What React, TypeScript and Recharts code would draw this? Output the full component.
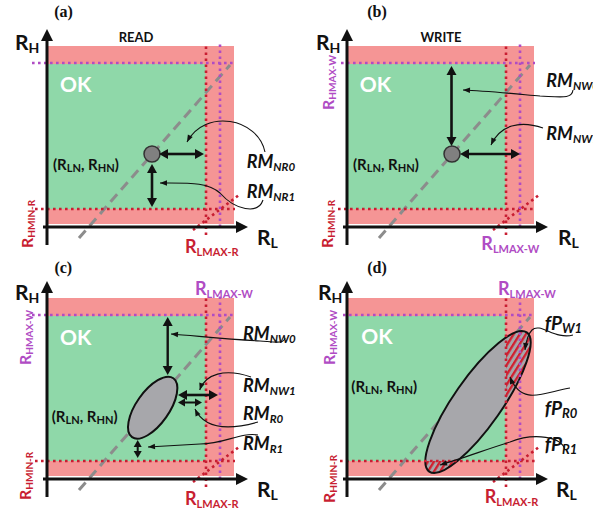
import React from "react";
import * as Recharts from "recharts";

const { ComposedChart, XAxis, YAxis, ReferenceArea, ReferenceLine, ReferenceDot, Customized } = Recharts as any;
const RC: any = Recharts;

type Pt = [number, number];

// ---- data: abstract resistance units, R_L on x, R_H on y ----
const X_DOMAIN: Pt = [0, 200];
const Y_DOMAIN: Pt = [0, 200];

const failZone = [0, 187, 3, 181]; // x1, x2, y1, y2
const okZone = [0, 158.5, 18, 163];

const R_HMAX_W = 164;
const R_HMIN_R = 18;
const R_LMAX_R = 159;
const R_LMAX_W = 173;

const hmaxWStart = [-15, -6, -15, -4];
const hminRStart = [-12, -9, -12, -7];
const limitEnd = 188;
const lmaxRSpan: Pt = [-8, 184];
const lmaxWSpan: Pt = [0, 184];
const diagRef: Pt[] = [[146, -3], [192, 32]];
const diagEqual: Pt[] = [[32, -11], [183, 162]];
const xAxisSpan: Pt = [-4, 201];
const yAxisSpan: Pt = [-18, 198];

const nominal: Pt = [105, 73];

// double headed margin arrows
const marginsA: Pt[][] = [[[112, 73], [157, 73]], [[105, 63], [105, 20]]];
const marginsB: Pt[][] = [[[104.5, 161], [104.5, 81]], [[113, 73], [173, 73]]];
const marginsC: Pt[][] = [
  [[120.7, 162], [120.7, 104]],
  [[131, 84], [171, 84]],
  [[131, 76.5], [155, 76.5]],
  [[90.7, 39], [90.7, 21]],
];

// distributions (centre, radii, tilt in degrees)
const spreadC = { c: [105.7, 71.3] as Pt, r: [36, 16.5] as Pt, angle: 55 };
const spreadD = { c: [131, 77] as Pt, r: [85, 24] as Pt, angle: 55 };

// annotation pointers (cubic bezier chains, arrow at the last point)
const pointersA: Pt[][] = [
  [[218, 75], [211, 109], [158, 119], [140, 85]],
  [[216, 27], [211, 12], [188, 17], [173, 34], [161, 45], [143, 44], [113, 44]],
];
const pointersB: Pt[][] = [
  [[226, 137], [225, 128], [215, 130], [193, 131], [170, 133], [140, 136], [116, 137]],
  [[196, 99], [173, 107], [153, 102], [144, 82]],
];
const pointersC: Pt[][] = [
  [[238, 141], [237, 135], [228, 137], [213, 138], [180, 140], [150, 143], [124, 145]],
  [[204, 102], [178, 111], [158, 105], [152.7, 89]],
  [[211, 57], [183, 49], [158, 49], [148, 70]],
  [[211, 44], [193, 47], [178, 35], [153, 35], [135, 34], [118, 33], [101, 32]],
];
const pointersD: Pt[][] = [
  [[226, 144], [208, 139], [193, 157], [185, 149], [181, 145], [179, 137], [178, 129]],
  [[223, 91], [198, 87], [175, 72], [163, 102]],
  [[218, 29], [215, 42], [188, 47], [163, 37], [138, 29], [113, 20], [93, 14]],
];

// ---- styles ----
const W = 296;
const H = 262;
const MARGIN = { top: 27, right: 49, bottom: 35, left: 47 };
const PINK = "#F59595";
const GREEN = "#8FD8A9";
const RED = "#C81E32";
const HATCH = "#D21F2E";
const MAGENTA = "#B04CC4";
const GRAY = "#8C8C8C";
const SANS = "Lato, 'Open Sans', sans-serif";
const SERIF = "'Liberation Serif', 'DejaVu Serif', serif";

type Lbl = {
  t: string; x: number; y: number; s: number; sub?: number;
  color?: string; italic?: boolean; rot?: number; anchor?: string; serif?: boolean;
};

const labelsA: Lbl[] = [
  { t: "(a)", x: 16.5, y: 210, s: 16, serif: true, anchor: "middle" },
  { t: "READ", x: 89, y: 185, s: 13, anchor: "middle" },
  { t: "R{H}", x: -32, y: 177, s: 21, sub: 14 },
  { t: "OK", x: 13, y: 135, s: 21, color: "#fff" },
  { t: "(R{LN}, R{HN})", x: 6, y: 57, s: 15, sub: 11 },
  { t: "RM{NR0}", x: 199.7, y: 59, s: 18, sub: 11.5, italic: true },
  { t: "RM{NR1}", x: 199.7, y: 29, s: 18, sub: 11.5, italic: true },
  { t: "R{HMIN-R}", x: -14, y: -21, s: 16, sub: 10, rot: -90, color: RED },
  { t: "R{LMAX-R}", x: 138, y: -26, s: 18, sub: 11, color: RED },
  { t: "R{L}", x: 210, y: -18, s: 21, sub: 14 },
];
const labelsB: Lbl[] = [
  { t: "(b)", x: 30, y: 210, s: 16, serif: true, anchor: "middle" },
  { t: "WRITE", x: 94, y: 185, s: 13, anchor: "middle" },
  { t: "R{H}", x: -31, y: 177, s: 21, sub: 14 },
  { t: "OK", x: 12.7, y: 135, s: 21, color: "#fff" },
  { t: "(R{LN}, R{HN})", x: 6, y: 57, s: 15, sub: 11 },
  { t: "RM{NW0}", x: 199.3, y: 140, s: 18, sub: 11.5, italic: true },
  { t: "RM{NW1}", x: 199.3, y: 87, s: 18, sub: 11.5, italic: true },
  { t: "R{HMAX-W}", x: -13, y: 117, s: 16, sub: 10, rot: -90, color: MAGENTA },
  { t: "R{HMIN-R}", x: -14, y: -21, s: 16, sub: 10, rot: -90, color: RED },
  { t: "R{LMAX-W}", x: 134.3, y: -23, s: 18, sub: 11, color: MAGENTA },
  { t: "R{L}", x: 211, y: -18, s: 21, sub: 14 },
];
const labelsC: Lbl[] = [
  { t: "(c)", x: 16.3, y: 206, s: 16, serif: true, anchor: "middle" },
  { t: "R{H}", x: -32, y: 179, s: 21, sub: 14 },
  { t: "R{LMAX-W}", x: 148, y: 184, s: 18, sub: 11, color: MAGENTA },
  { t: "R{HMAX-W}", x: -16, y: 114, s: 16, sub: 10, rot: -90, color: MAGENTA },
  { t: "R{HMIN-R}", x: -16, y: -21, s: 16, sub: 10, rot: -90, color: RED },
  { t: "OK", x: 13, y: 134, s: 21, color: "#fff" },
  { t: "(R{LN}, R{HN})", x: 4.7, y: 57, s: 15, sub: 11 },
  { t: "RM{NW0}", x: 196, y: 139, s: 18, sub: 11.5, italic: true },
  { t: "RM{NW1}", x: 196, y: 87, s: 18, sub: 11.5, italic: true },
  { t: "RM{R0}", x: 196, y: 59, s: 18, sub: 11.5, italic: true },
  { t: "RM{R1}", x: 196, y: 29, s: 18, sub: 11.5, italic: true },
  { t: "R{LMAX-R}", x: 138, y: -26, s: 18, sub: 11, color: RED },
  { t: "R{L}", x: 210, y: -18, s: 21, sub: 14 },
];
const labelsD: Lbl[] = [
  { t: "(d)", x: 30, y: 206, s: 16, serif: true, anchor: "middle" },
  { t: "R{H}", x: -29, y: 179, s: 21, sub: 14 },
  { t: "R{LMAX-W}", x: 151, y: 184, s: 18, sub: 11, color: MAGENTA },
  { t: "R{HMAX-W}", x: -12, y: 114, s: 16, sub: 10, rot: -90, color: MAGENTA },
  { t: "R{HMIN-R}", x: -12, y: -24, s: 16, sub: 10, rot: -90, color: RED },
  { t: "OK", x: 14.3, y: 134.7, s: 21, color: "#fff" },
  { t: "(R{LN}, R{HN})", x: 4.3, y: 87, s: 15, sub: 11 },
  { t: "fP{W1}", x: 197.7, y: 149, s: 19, sub: 13, italic: true },
  { t: "fP{R0}", x: 197.7, y: 64, s: 19, sub: 13, italic: true },
  { t: "fP{R1}", x: 197.7, y: 28, s: 19, sub: 13, italic: true },
  { t: "R{LMAX-R}", x: 137.7, y: -24, s: 18, sub: 11, color: RED },
  { t: "R{L}", x: 209, y: -18, s: 21, sub: 14 },
];

type Spec = {
  id: string; idx: number; left: number; top: number;
  dot?: boolean; spread?: typeof spreadC; hatch?: boolean;
  margins: Pt[][]; marginWidths: number[]; pointers: Pt[][]; labels: Lbl[];
};

const PANELS: Spec[] = [
  { id: "a", idx: 0, left: 0, top: 0, dot: true, margins: marginsA, marginWidths: [2.6, 2.6], pointers: pointersA, labels: labelsA },
  { id: "b", idx: 1, left: 300, top: 0, dot: true, margins: marginsB, marginWidths: [2.6, 2.6], pointers: pointersB, labels: labelsB },
  { id: "c", idx: 2, left: 0, top: 252, spread: spreadC, margins: marginsC, marginWidths: [2.4, 2.6, 2, 2], pointers: pointersC, labels: labelsC },
  { id: "d", idx: 3, left: 300, top: 252, spread: spreadD, hatch: true, margins: [], marginWidths: [], pointers: pointersD, labels: labelsD },
];

const usePlotAreaSafe: () => any = RC.usePlotArea ?? (() => undefined);

function useFrame() {
  const pa = usePlotAreaSafe();
  const left = pa?.x ?? MARGIN.left;
  const top = pa?.y ?? MARGIN.top;
  const w = pa?.width ?? W - MARGIN.left - MARGIN.right;
  const h = pa?.height ?? H - MARGIN.top - MARGIN.bottom;
  const sx = (v: number) => left + ((v - X_DOMAIN[0]) / (X_DOMAIN[1] - X_DOMAIN[0])) * w;
  const sy = (v: number) => top + h - ((v - Y_DOMAIN[0]) / (Y_DOMAIN[1] - Y_DOMAIN[0])) * h;
  return { sx, sy };
}

function headPts(x1: number, y1: number, x2: number, y2: number, len: number, wid: number) {
  const d = Math.hypot(x2 - x1, y2 - y1) || 1;
  const ux = (x2 - x1) / d, uy = (y2 - y1) / d;
  const bx = x2 - ux * len, by = y2 - uy * len;
  return {
    base: [bx, by],
    poly: `${x2},${y2} ${bx - (uy * wid) / 2},${by + (ux * wid) / 2} ${bx + (uy * wid) / 2},${by - (ux * wid) / 2}`,
  };
}

function Rich({ l, sx, sy }: { l: Lbl; sx: (v: number) => number; sy: (v: number) => number }) {
  const x = sx(l.x), y = sy(l.y);
  const parts = l.t.split(/(\{[^}]*\})/).filter(Boolean);
  const sub = l.sub ?? l.s * 0.65;
  const off = l.s * 0.14;
  let down = false;
  return (
    <text
      x={x} y={y} fontSize={l.s} fill={l.color ?? "#111"}
      fontFamily={l.serif ? SERIF : SANS} fontWeight={700}
      fontStyle={l.italic ? "italic" : "normal"}
      textAnchor={l.anchor ?? "start"}
      transform={l.rot ? `rotate(${l.rot} ${x} ${y})` : undefined}
    >
      {parts.map((p, i) => {
        if (p.startsWith("{")) {
          const dy = down ? 0 : off;
          down = true;
          return <tspan key={i} dy={dy} fontSize={sub}>{p.slice(1, -1)}</tspan>;
        }
        const dy = down ? -off : 0;
        down = false;
        return <tspan key={i} dy={dy}>{p}</tspan>;
      })}
    </text>
  );
}

function Spread({ spec }: { spec: Spec }) {
  const { sx, sy } = useFrame();
  const sp = spec.spread;
  if (!sp) return null;
  const cx = sx(sp.c[0]), cy = sy(sp.c[1]);
  const rx = sx(sp.c[0] + sp.r[0]) - cx, ry = sy(sp.c[1]) - sy(sp.c[1] + sp.r[1]);
  const tf = `rotate(${-sp.angle} ${cx} ${cy})`;
  const ell = `ell-${spec.id}`;
  const hat = `hat-${spec.id}`;
  return (
    <g>
      <defs>
        <clipPath id={ell}>
          <ellipse cx={cx} cy={cy} rx={rx} ry={ry} transform={tf} />
        </clipPath>
        <pattern id={hat} patternUnits="userSpaceOnUse" width={5.2} height={10} patternTransform="rotate(32)">
          <rect x={0} y={0} width={2.3} height={10} fill={HATCH} />
        </pattern>
      </defs>
      <ellipse cx={cx} cy={cy} rx={rx} ry={ry} transform={tf} fill="#A7A7AB" />
      {spec.hatch && (
        <g clipPath={`url(#${ell})`}>
          <rect x={sx(R_LMAX_R)} y={sy(200)} width={sx(200) - sx(R_LMAX_R)} height={sy(0) - sy(200)} fill={`url(#${hat})`} />
          <rect x={sx(0)} y={sy(R_HMIN_R)} width={sx(200) - sx(0)} height={sy(0) - sy(R_HMIN_R)} fill={`url(#${hat})`} />
        </g>
      )}
      <ellipse cx={cx} cy={cy} rx={rx} ry={ry} transform={tf} fill="none" stroke="#111" strokeWidth={2} />
    </g>
  );
}

function Annotations({ spec }: { spec: Spec }) {
  const { sx, sy } = useFrame();
  const dbl = (seg: Pt[], w: number, k: number) => {
    const [x1, y1] = [sx(seg[0][0]), sy(seg[0][1])];
    const [x2, y2] = [sx(seg[1][0]), sy(seg[1][1])];
    const len = w > 2.3 ? 9 : 7, wid = w > 2.3 ? 10 : 8;
    const h2 = headPts(x1, y1, x2, y2, len, wid);
    const h1 = headPts(x2, y2, x1, y1, len, wid);
    return (
      <g key={`m${k}`}>
        <line x1={h1.base[0]} y1={h1.base[1]} x2={h2.base[0]} y2={h2.base[1]} stroke="#111" strokeWidth={w} />
        <polygon points={h1.poly} fill="#111" />
        <polygon points={h2.poly} fill="#111" />
      </g>
    );
  };
  const ptr = (pts: Pt[], k: number) => {
    const p = pts.map(([a, b]) => [sx(a), sy(b)]);
    let d = `M${p[0][0]},${p[0][1]}`;
    for (let i = 1; i + 2 < p.length; i += 3) {
      d += ` C${p[i][0]},${p[i][1]} ${p[i + 1][0]},${p[i + 1][1]} ${p[i + 2][0]},${p[i + 2][1]}`;
    }
    const n = p.length - 1;
    const hd = headPts(p[n - 1][0], p[n - 1][1], p[n][0], p[n][1], 7, 5.5);
    return (
      <g key={`p${k}`}>
        <path d={d} fill="none" stroke="#111" strokeWidth={1.1} />
        <polygon points={hd.poly} fill="#111" />
      </g>
    );
  };
  const xa = headPts(sx(xAxisSpan[0]), sy(0), sx(xAxisSpan[1]), sy(0), 12, 12);
  const ya = headPts(sx(0), sy(yAxisSpan[0]), sx(0), sy(yAxisSpan[1]), 12, 12);
  return (
    <g>
      <line x1={sx(xAxisSpan[0])} y1={sy(0)} x2={xa.base[0]} y2={xa.base[1]} stroke="#111" strokeWidth={3} />
      <polygon points={xa.poly} fill="#111" />
      <line x1={sx(0)} y1={sy(yAxisSpan[0])} x2={ya.base[0]} y2={ya.base[1]} stroke="#111" strokeWidth={3} />
      <polygon points={ya.poly} fill="#111" />
      {spec.margins.map((m, i) => dbl(m, spec.marginWidths[i], i))}
      {spec.pointers.map((p, i) => ptr(p, i))}
      {spec.labels.map((l, i) => <Rich key={i} l={l} sx={sx} sy={sy} />)}
    </g>
  );
}

// one transparent chart per drawing layer, all sharing the same axes
function Layer({ children }: { children: React.ReactNode }) {
  return (
    <div style={{ position: "absolute", left: 0, top: 0 }}>
      <ComposedChart width={W} height={H} margin={MARGIN} data={[]}>
        <XAxis type="number" dataKey="x" domain={X_DOMAIN} hide allowDataOverflow />
        <YAxis type="number" dataKey="y" domain={Y_DOMAIN} hide allowDataOverflow />
        {children}
      </ComposedChart>
    </div>
  );
}

function Panel({ spec }: { spec: Spec }) {
  const dotted = { strokeWidth: 2.6, strokeDasharray: "2.6 3.4", ifOverflow: "visible" };
  return (
    <div style={{ position: "absolute", left: spec.left, top: spec.top, width: W, height: H }}>
      <Layer>
        <ReferenceArea x1={failZone[0]} x2={failZone[1]} y1={failZone[2]} y2={failZone[3]} fill={PINK} fillOpacity={1} stroke="none" ifOverflow="visible" />
        <ReferenceArea x1={okZone[0]} x2={okZone[1]} y1={okZone[2]} y2={okZone[3]} fill={GREEN} fillOpacity={1} stroke="none" ifOverflow="visible" />
        <ReferenceLine segment={diagEqual.map(([x, y]) => ({ x, y }))} stroke={GRAY} strokeWidth={3} strokeDasharray="10 6" ifOverflow="visible" />
        {spec.dot && (
          <ReferenceDot x={nominal[0]} y={nominal[1]} r={8} fill="#808080" stroke="#333" strokeWidth={1.5} ifOverflow="visible" />
        )}
      </Layer>
      {spec.spread && (
        <Layer>
          <Customized component={<Spread spec={spec} />} />
        </Layer>
      )}
      <Layer>
        <ReferenceLine segment={[{ x: hmaxWStart[spec.idx], y: R_HMAX_W }, { x: limitEnd, y: R_HMAX_W }]} stroke={MAGENTA} {...dotted} />
        <ReferenceLine segment={[{ x: hminRStart[spec.idx], y: R_HMIN_R }, { x: limitEnd, y: R_HMIN_R }]} stroke={RED} {...dotted} />
        <ReferenceLine segment={[{ x: R_LMAX_W, y: lmaxWSpan[0] }, { x: R_LMAX_W, y: lmaxWSpan[1] }]} stroke={MAGENTA} {...dotted} />
        <ReferenceLine segment={[{ x: R_LMAX_R, y: lmaxRSpan[0] }, { x: R_LMAX_R, y: lmaxRSpan[1] }]} stroke={RED} {...dotted} />
        <ReferenceLine segment={diagRef.map(([x, y]) => ({ x, y }))} stroke={RED} {...dotted} />
      </Layer>
      <Layer>
        <Customized component={<Annotations spec={spec} />} />
      </Layer>
    </div>
  );
}

export default function App() {
  return (
    <div style={{ position: "absolute", left: 0, top: 0, width: 593, height: 509, overflow: "hidden", background: "#fff" }}>
      {PANELS.map((p) => (
        <Panel key={p.id} spec={p} />
      ))}
    </div>
  );
}
